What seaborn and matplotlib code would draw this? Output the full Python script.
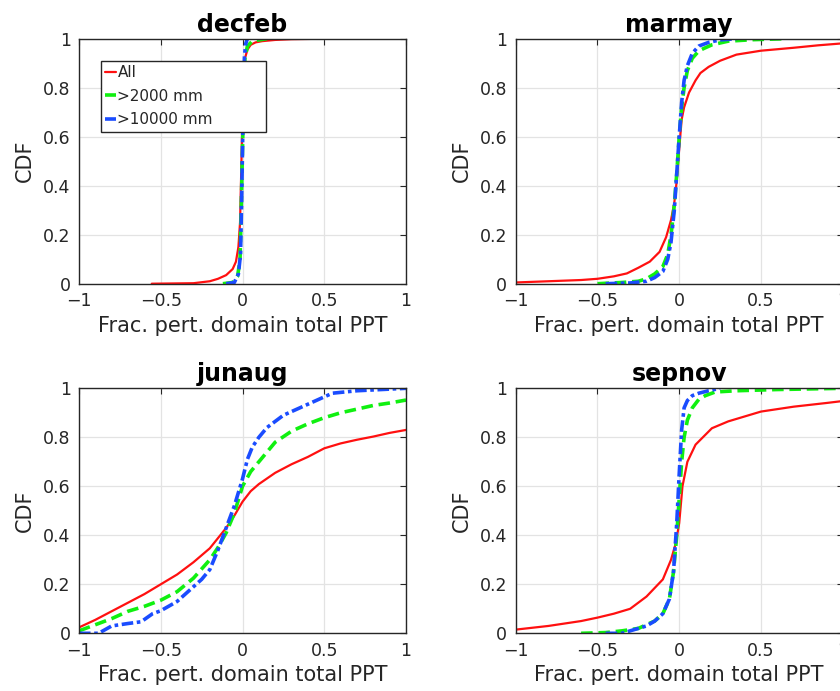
import matplotlib
matplotlib.use("Agg")
import matplotlib.pyplot as plt
import seaborn as sns
import pandas as pd

sns.set_style("white")
plt.rcParams['font.family'] = ['DejaVu Sans']

seasons = ["decfeb", "marmay", "junaug", "sepnov"]
series_names = ["All", ">2000 mm", ">10000 mm"]

# decfeb
decfeb_all_x = [-0.555, -0.3, -0.2, -0.15, -0.1, -0.06, -0.04, -0.025, -0.015, -0.008, 0.0, 0.008, 0.015, 0.03, 0.05, 0.08, 0.12, 0.2, 0.3, 0.5, 1.0]
decfeb_all_y = [0.0, 0.002, 0.01, 0.02, 0.035, 0.06, 0.09, 0.15, 0.25, 0.45, 0.7, 0.86, 0.92, 0.955, 0.975, 0.985, 0.99, 0.995, 0.998, 1.0, 1.0]
decfeb_g2k_x = [-0.12, -0.06, -0.03, -0.015, -0.008, 0.0, 0.008, 0.015, 0.03, 0.06, 0.1, 0.15]
decfeb_g2k_y = [0.0, 0.005, 0.03, 0.1, 0.3, 0.55, 0.8, 0.92, 0.97, 0.99, 0.995, 1.0]
decfeb_g10k_x = [-0.1, -0.05, -0.025, -0.012, -0.005, 0.0, 0.006, 0.012, 0.02, 0.03]
decfeb_g10k_y = [0.0, 0.005, 0.04, 0.12, 0.35, 0.55, 0.8, 0.93, 0.98, 1.0]

# marmay
marmay_all_x = [-1.0, -0.8, -0.6, -0.5, -0.4, -0.32, -0.25, -0.18, -0.12, -0.08, -0.05, -0.03, -0.015, 0.0, 0.015, 0.03, 0.06, 0.1, 0.13, 0.18, 0.25, 0.35, 0.5, 0.7, 0.85, 1.0]
marmay_all_y = [0.005, 0.01, 0.015, 0.02, 0.03, 0.042, 0.065, 0.09, 0.13, 0.19, 0.26, 0.33, 0.42, 0.55, 0.67, 0.72, 0.78, 0.83, 0.86, 0.885, 0.91, 0.935, 0.951, 0.963, 0.973, 0.981]
marmay_g2k_x = [-0.5, -0.35, -0.25, -0.2, -0.15, -0.1, -0.07, -0.05, -0.03, -0.015, 0.0, 0.015, 0.03, 0.05, 0.08, 0.12, 0.15, 0.2, 0.3, 0.45, 0.65]
marmay_g2k_y = [0.0, 0.005, 0.01, 0.02, 0.04, 0.07, 0.12, 0.2, 0.32, 0.45, 0.6, 0.72, 0.8, 0.87, 0.92, 0.95, 0.96, 0.975, 0.99, 0.996, 1.0]
marmay_g10k_x = [-0.45, -0.3, -0.2, -0.15, -0.1, -0.07, -0.05, -0.03, -0.015, 0.0, 0.015, 0.03, 0.05, 0.08, 0.12, 0.18, 0.25, 0.35]
marmay_g10k_y = [0.0, 0.003, 0.01, 0.025, 0.05, 0.1, 0.17, 0.3, 0.45, 0.6, 0.74, 0.83, 0.89, 0.94, 0.97, 0.985, 0.995, 1.0]

# junaug
junaug_all_x = [-1.0, -0.9, -0.8, -0.7, -0.6, -0.5, -0.4, -0.3, -0.2, -0.1, -0.05, 0.0, 0.05, 0.1, 0.2, 0.3, 0.4, 0.5, 0.6, 0.7, 0.8, 0.9, 1.0]
junaug_all_y = [0.024, 0.055, 0.09, 0.125, 0.16, 0.2, 0.24, 0.29, 0.347, 0.43, 0.48, 0.537, 0.58, 0.609, 0.655, 0.69, 0.72, 0.755, 0.775, 0.79, 0.803, 0.818, 0.83]
junaug_g2k_x = [-1.0, -0.9, -0.8, -0.7, -0.6, -0.5, -0.4, -0.3, -0.2, -0.15, -0.1, -0.05, 0.0, 0.05, 0.1, 0.2, 0.3, 0.4, 0.5, 0.6, 0.7, 0.8, 0.9, 1.0]
junaug_g2k_y = [0.01, 0.035, 0.06, 0.09, 0.11, 0.135, 0.17, 0.225, 0.3, 0.35, 0.41, 0.49, 0.6, 0.66, 0.7, 0.78, 0.825, 0.855, 0.88, 0.9, 0.915, 0.93, 0.94, 0.952]
junaug_g10k_x = [-1.0, -0.88, -0.84, -0.8, -0.7, -0.62, -0.55, -0.5, -0.4, -0.3, -0.25, -0.2, -0.15, -0.1, -0.05, 0.0, 0.03, 0.06, 0.1, 0.15, 0.25, 0.35, 0.45, 0.55, 0.7, 0.85, 1.0]
junaug_g10k_y = [0.0, 0.0, 0.015, 0.03, 0.04, 0.047, 0.08, 0.092, 0.13, 0.19, 0.22, 0.26, 0.34, 0.43, 0.52, 0.63, 0.71, 0.76, 0.8, 0.84, 0.89, 0.92, 0.95, 0.98, 0.99, 0.995, 1.0]

# sepnov
sepnov_all_x = [-1.0, -0.8, -0.6, -0.5, -0.4, -0.3, -0.2, -0.1, -0.05, -0.02, 0.0, 0.02, 0.05, 0.1, 0.2, 0.3, 0.5, 0.7, 0.9, 1.0]
sepnov_all_y = [0.015, 0.03, 0.05, 0.064, 0.08, 0.1, 0.15, 0.22, 0.3, 0.37, 0.45, 0.6, 0.7, 0.77, 0.837, 0.865, 0.905, 0.925, 0.94, 0.948]
sepnov_g2k_x = [-0.6, -0.45, -0.35, -0.25, -0.15, -0.1, -0.06, -0.035, -0.015, 0.0, 0.015, 0.03, 0.05, 0.08, 0.12, 0.16, 0.22, 0.35, 0.6, 1.0]
sepnov_g2k_y = [0.0, 0.003, 0.01, 0.02, 0.05, 0.08, 0.14, 0.25, 0.4, 0.55, 0.7, 0.8, 0.87, 0.92, 0.955, 0.97, 0.985, 0.99, 0.995, 1.0]
sepnov_g10k_x = [-0.45, -0.35, -0.3, -0.2, -0.15, -0.1, -0.06, -0.035, -0.015, 0.0, 0.015, 0.03, 0.05, 0.08, 0.12, 0.18, 0.25]
sepnov_g10k_y = [0.0, 0.0, 0.01, 0.03, 0.05, 0.08, 0.14, 0.25, 0.45, 0.65, 0.83, 0.92, 0.95, 0.97, 0.98, 0.99, 1.0]

data = {
    "decfeb": [(decfeb_all_x, decfeb_all_y), (decfeb_g2k_x, decfeb_g2k_y), (decfeb_g10k_x, decfeb_g10k_y)],
    "marmay": [(marmay_all_x, marmay_all_y), (marmay_g2k_x, marmay_g2k_y), (marmay_g10k_x, marmay_g10k_y)],
    "junaug": [(junaug_all_x, junaug_all_y), (junaug_g2k_x, junaug_g2k_y), (junaug_g10k_x, junaug_g10k_y)],
    "sepnov": [(sepnov_all_x, sepnov_all_y), (sepnov_g2k_x, sepnov_g2k_y), (sepnov_g10k_x, sepnov_g10k_y)],
}

colors = ["#ff1010", "#10f010", "#1a4cff"]
styles = ["-", (0, (3.2, 1.6)), (0, (3.2, 1.0, 1.0, 1.0))]
widths = [1.6, 2.6, 2.6]

fig = plt.figure(figsize=(8.4, 6.91), dpi=100)
W, H = 840, 691
ax_w = 327 / W
ax_h = 245 / H
lefts = [79 / W, 515.7 / W]
bottoms = [(H - 283.7) / H, (H - 633.3) / H]

positions = {
    "decfeb": (lefts[0], bottoms[0]),
    "marmay": (lefts[1], bottoms[0]),
    "junaug": (lefts[0], bottoms[1]),
    "sepnov": (lefts[1], bottoms[1]),
}

text_col = "#262626"
for season in seasons:
    l, b = positions[season]
    ax = fig.add_axes([l, b, ax_w, ax_h])
    for i, name in enumerate(series_names):
        xs, ys = data[season][i]
        df = pd.DataFrame({"x": xs, "y": ys})
        sns.lineplot(data=df, x="x", y="y", ax=ax, color=colors[i],
                     linestyle=styles[i], linewidth=widths[i], label=name,
                     sort=False, estimator=None, legend=False)
    ax.set_xlim(-1, 1)
    ax.set_ylim(0, 1)
    ax.set_xticks([-1, -0.5, 0, 0.5, 1])
    ax.set_xticklabels(["\u22121", "\u22120.5", "0", "0.5", "1"])
    ax.set_yticks([0, 0.2, 0.4, 0.6, 0.8, 1])
    ax.set_yticklabels(["0", "0.2", "0.4", "0.6", "0.8", "1"])
    ax.grid(True, color="#e3e3e3", linewidth=0.9)
    ax.set_axisbelow(True)
    ax.tick_params(direction="in", length=4, width=0.8, top=True, right=True,
                   labelsize=12.5, colors=text_col, pad=6)
    for sp in ax.spines.values():
        sp.set_color(text_col)
        sp.set_linewidth(1.0)
    ax.set_xlabel("Frac. pert. domain total PPT", fontsize=15, color=text_col, labelpad=4)
    ax.set_ylabel("CDF", fontsize=15, color=text_col, labelpad=6)
    ax.set_title(season, fontsize=17, fontweight="bold", color="black", pad=5)
    if season == "decfeb":
        leg = ax.legend(loc="upper left", bbox_to_anchor=(0.066, 0.623, 0.505, 0.287),
                        mode="expand", borderaxespad=0, fontsize=11, handlelength=0.7,
                        handletextpad=0.1, labelspacing=0.55, borderpad=0.3,
                        fancybox=False, framealpha=1, edgecolor=text_col)
        leg.get_frame().set_linewidth(1.0)
        for t in leg.get_texts():
            t.set_color(text_col)

fig.savefig("out.png", dpi=100)
